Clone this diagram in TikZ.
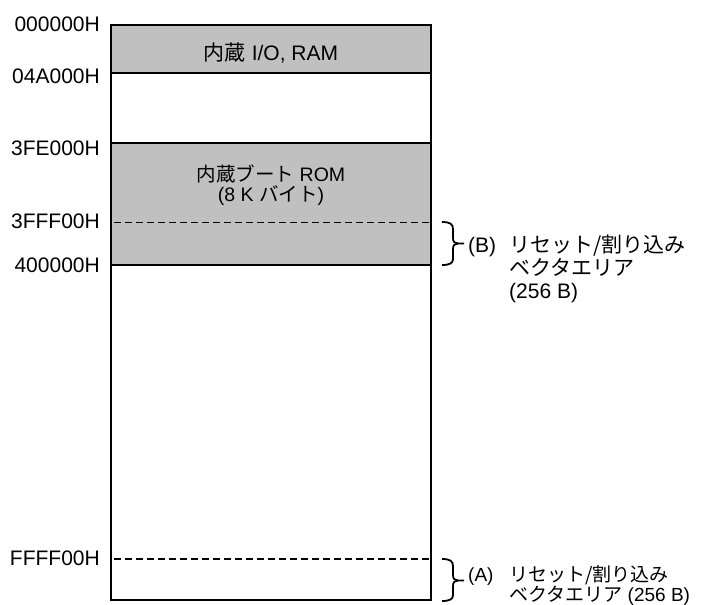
\documentclass[tikz,border=0pt]{standalone}
\usepackage{fontspec}
\setmainfont{Liberation Sans}
\newfontfamily\jp{Noto Sans CJK JP}
\definecolor{memgray}{RGB}{192,192,192}
\begin{document}
\begin{tikzpicture}[x=1pt,y=-1pt,
  lab/.style={inner sep=0pt, font=\fontsize{21}{24}\selectfont},
  smalllab/.style={inner sep=0pt, font=\fontsize{19.5}{22}\selectfont},
  alab/.style={inner sep=0pt, font=\fontsize{19}{22}\selectfont},
  border/.style={line width=2pt},
  sep/.style={line width=2pt},
  dashline/.style={line width=1.8pt, dash pattern=on 7pt off 4pt},
  bracestyle/.style={line width=1.8pt}]
\useasboundingbox (0,0) rectangle (707,605);
% gray regions
\fill[memgray] (111,25) rectangle (431,73);
\fill[memgray] (111,142.5) rectangle (431,265);
% separators
\draw[sep] (111,73) -- (431,73);
\draw[sep] (111,142.5) -- (431,142.5);
\draw[sep] (111,265) -- (431,265);
\draw[dashline] (114,222.5) -- (429,222.5);
\draw[dashline] (114,559) -- (429,559);
% outer box
\draw[border] (111,25) rectangle (431,600);
% address labels
\node[lab, anchor=base east] (a000000) at (100,31) {000000H};
\node[lab, anchor=base east] (a04A000) at (100,83) {04A000H};
\node[lab, anchor=base east] (a3FE000) at (100,155) {3FE000H};
\node[lab, anchor=base east] (a3FFF00) at (100,228) {3FFF00H};
\node[lab, anchor=base east] (a400000) at (100,272) {400000H};
\node[lab, anchor=base east] (aFFFF00) at (100,565) {FFFF00H};
% region texts
\node[lab, anchor=base] (ram) at (271,60) {{\jp 内蔵} I/O, RAM};
\node[smalllab, anchor=base] (rom1) at (271,181.5) {{\jp 内蔵ブート} ROM};
\node[smalllab, anchor=base] (rom2) at (271,201) {(8 K {\jp バイト})};
% brace B
\draw[bracestyle] (442,222) .. controls (450,222) and (453,224) .. (453,229)
  -- (453,238) .. controls (453,242) and (455,243.5) .. (458,243.5) -- (464,243.5);
\draw[bracestyle] (458,243.5) .. controls (455,243.5) and (453,245) .. (453,249)
  -- (453,259) .. controls (453,263) and (450,265) .. (442,265);
\node[lab, anchor=base west] (bl) at (468,252) {(B)};
\node[lab, anchor=base west] (b1) at (509,252) {\jp リセット/割り込み};
\node[lab, anchor=base west] (b2) at (509,275.5) {\jp ベクタエリア};
\node[lab, anchor=base west] (b3) at (509,298.5) {(256 B)};
% brace A
\draw[bracestyle] (442,559) .. controls (450,559) and (453,561) .. (453,566)
  -- (453,575) .. controls (453,579) and (455,580.5) .. (458,580.5) -- (464,580.5);
\draw[bracestyle] (458,580.5) .. controls (455,580.5) and (453,582) .. (453,586)
  -- (453,595) .. controls (453,599) and (450,601) .. (442,601);
\node[alab, anchor=base west] (al) at (468,581.5) {(A)};
\node[alab, anchor=base west] (a1) at (509,581.5) {\jp リセット/割り込み};
\node[alab, anchor=base west] (a2) at (509,601) {{\jp ベクタエリア} (256 B)};
\end{tikzpicture}
\end{document}
